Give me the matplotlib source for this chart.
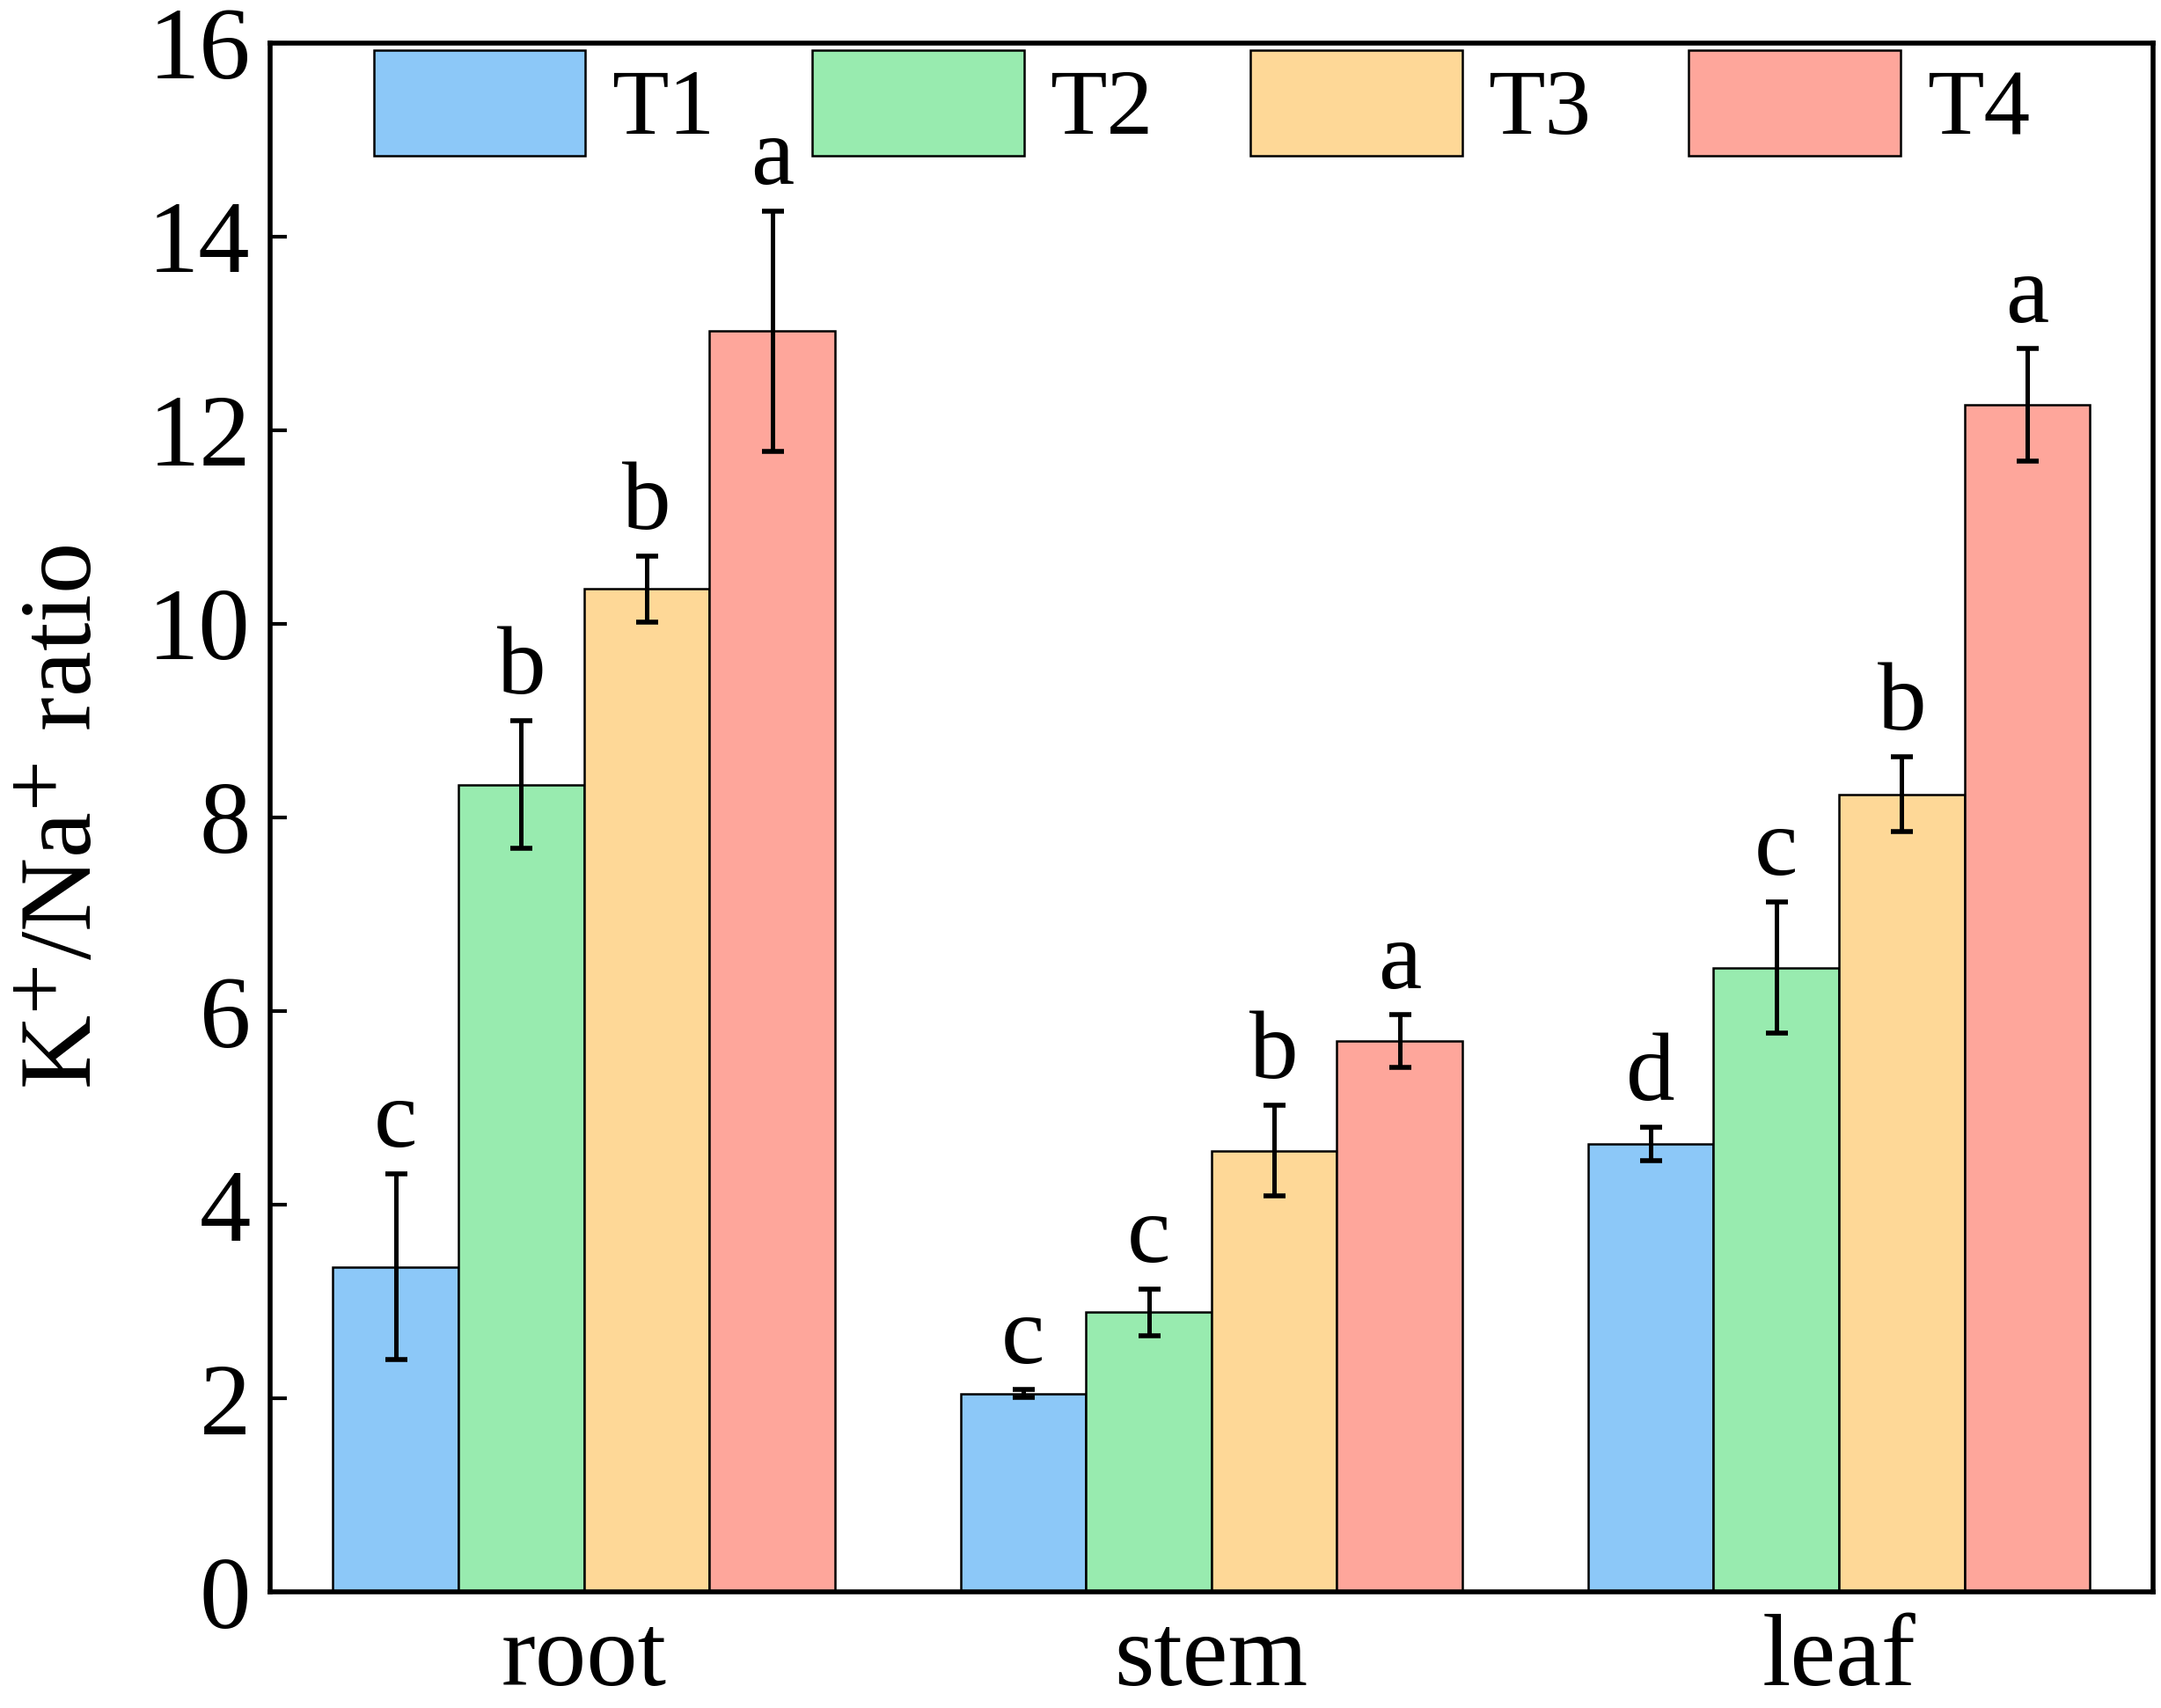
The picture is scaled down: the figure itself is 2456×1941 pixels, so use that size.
import matplotlib.pyplot as plt
import numpy as np

plt.rcParams['font.family'] = 'serif'
plt.rcParams['font.serif'] = ['Liberation Serif', 'STIXGeneral', 'DejaVu Serif']
plt.rcParams['mathtext.fontset'] = 'stix'

# Datos
tissues = ['root', 'stem', 'leaf']
treatments = ['T1', 'T2', 'T3', 'T4']
colors = ['#8CC8F8', '#98EBAF', '#FED897', '#FEA69B']

t1_mean = [3.36, 2.05, 4.63]
t2_mean = [8.34, 2.89, 6.45]
t3_mean = [10.36, 4.56, 8.24]
t4_mean = [13.02, 5.69, 12.26]

t1_err = [0.96, 0.04, 0.17]
t2_err = [0.66, 0.24, 0.68]
t3_err = [0.34, 0.47, 0.39]
t4_err = [1.24, 0.27, 0.58]

t1_sig = ['c', 'c', 'd']
t2_sig = ['b', 'c', 'c']
t3_sig = ['b', 'b', 'b']
t4_sig = ['a', 'a', 'a']

means = [t1_mean, t2_mean, t3_mean, t4_mean]
errs = [t1_err, t2_err, t3_err, t4_err]
sigs = [t1_sig, t2_sig, t3_sig, t4_sig]

fig = plt.figure(figsize=(12.28, 9.705), dpi=200)
ax = fig.add_axes([0.125, 0.0678, 0.8712, 0.9072])

x = np.arange(len(tissues))
width = 0.2
for i, t in enumerate(treatments):
    pos = x + (i - 1.5) * width
    ax.bar(pos, means[i], width, color=colors[i], edgecolor='black',
           linewidth=0.9, label=t, zorder=2)
    ax.errorbar(pos, means[i], yerr=errs[i], fmt='none', ecolor='black',
                elinewidth=1.8, capsize=4.5, capthick=2.0, zorder=3)
    for p, m, e, s in zip(pos, means[i], errs[i], sigs[i]):
        ax.text(p, m + e + 0.07, s, ha='center', va='bottom', fontsize=40)

ax.set_xlim(-0.5, 2.5)
ax.set_ylim(0, 16)
ax.set_yticks(range(0, 17, 2))
ax.set_xticks(x)
ax.set_xticklabels(tissues)
ax.tick_params(axis='both', direction='in', labelsize=42, width=1.5)
ax.tick_params(axis='y', length=7, pad=8)
ax.tick_params(axis='x', length=5, pad=9)
ax.set_ylabel('K$^{+}$/Na$^{+}$ ratio', fontsize=42, labelpad=14)
for s in ax.spines.values():
    s.set_linewidth(2)

ax.legend(loc='upper left', bbox_to_anchor=(0.055, 0.995), ncol=4,
          frameon=False, fontsize=38, borderpad=0, borderaxespad=0,
          handlelength=2.28, handleheight=1.36, handletextpad=0.28,
          columnspacing=1.05)

fig.savefig('out.png', dpi=200)
